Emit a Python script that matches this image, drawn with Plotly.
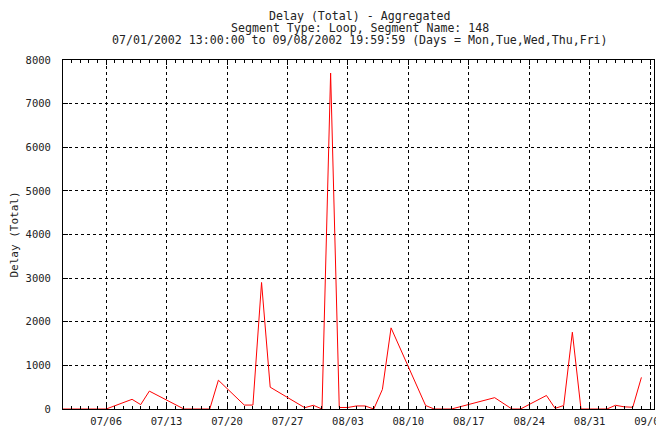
import plotly.graph_objects as go

dates = [
    "2002-07-01", "2002-07-02", "2002-07-03", "2002-07-04", "2002-07-05", "2002-07-06",
    "2002-07-09", "2002-07-10", "2002-07-11", "2002-07-15", "2002-07-18", "2002-07-19",
    "2002-07-22", "2002-07-23", "2002-07-24", "2002-07-25", "2002-07-29", "2002-07-30",
    "2002-07-31", "2002-08-01", "2002-08-02", "2002-08-03", "2002-08-04", "2002-08-05",
    "2002-08-06", "2002-08-07", "2002-08-08", "2002-08-12", "2002-08-13", "2002-08-15",
    "2002-08-20", "2002-08-22", "2002-08-23", "2002-08-26", "2002-08-27", "2002-08-28",
    "2002-08-29", "2002-08-30", "2002-09-02", "2002-09-03", "2002-09-04", "2002-09-05",
    "2002-09-06",
]
delay = [
    0, 0, 0, 0, 0, 0,
    222, 100, 410, 0, 0, 660,
    90, 90, 2900, 500, 30, 85,
    0, 7700, 35, 35, 70, 70,
    0, 450, 1860, 80, 0, 0,
    260, 0, 0, 310, 15, 80,
    1760, 0, 0, 85, 50, 40,
    725,
]

title_lines = [
    "Delay (Total) - Aggregated",
    "Segment Type: Loop, Segment Name: 148",
    "07/01/2002 13:00:00 to 09/08/2002 19:59:59 (Days = Mon,Tue,Wed,Thu,Fri)",
]
y_title = "Delay (Total)"

font = "DejaVu Sans Mono"
txt = "#222"

fig = go.Figure()
fig.add_trace(go.Scatter(x=dates, y=delay, mode="lines",
                         line=dict(color="#ff0000", width=1)))

# page body has an 8px margin, so the figure is a bit smaller and shifted
fig.update_layout(
    width=656, height=424,
    margin=dict(l=55, r=10, t=52, b=23),
    paper_bgcolor="white", plot_bgcolor="white",
    showlegend=False,
    font=dict(family=font, size=10.5, color=txt),
)

# three centred title lines
for i, line in enumerate(title_lines):
    fig.add_annotation(text=line, xref="paper", yref="paper",
                       x=0.502, y=1 + (44.3 - 12.2 * i) / 349, xanchor="center", yanchor="middle",
                       showarrow=False, font=dict(family=font, size=11.6, color=txt))

fig.add_annotation(text=y_title, xref="paper", yref="paper", x=-49 / 591, y=0.5,
                   xanchor="center", yanchor="middle", textangle=-90, showarrow=False,
                   font=dict(family=font, size=11, color=txt))

fig.update_xaxes(
    type="date", automargin=False,
    range=["2002-07-01", "2002-09-07 11:00"],
    tick0="2002-07-06", dtick=7 * 86400000, tickformat="%m/%d",
    ticks="inside", ticklen=5, tickcolor="black",
    ticklabeloverflow="allow", ticklabelstandoff=2,
    minor=dict(dtick=86400000, tick0="2002-07-01", ticks="inside", ticklen=3,
               tickcolor="black", showgrid=False),
    showgrid=True, gridcolor="black", griddash="dot", gridwidth=1,
    showline=True, linecolor="black", linewidth=1, mirror="allticks",
    zeroline=False,
)
fig.update_yaxes(
    range=[0, 8000], dtick=1000, automargin=False,
    ticks="inside", ticklen=5, tickcolor="black",
    ticklabelstandoff=9,
    showgrid=True, gridcolor="black", griddash="dot", gridwidth=1,
    showline=True, linecolor="black", linewidth=1, mirror="allticks",
    zeroline=False,
)

fig.write_html("out.html")
